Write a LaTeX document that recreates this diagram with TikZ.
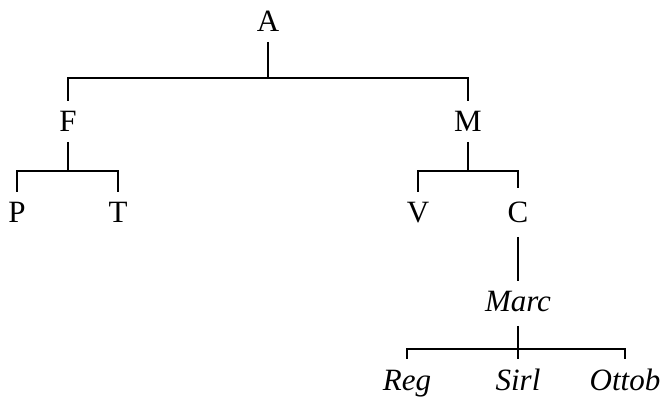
\documentclass[tikz,border=0pt]{standalone}
\usepackage{fontspec}
\setmainfont{Liberation Serif}

\begin{document}
\begin{tikzpicture}[x=1pt,y=-1pt,line width=1.2pt,
    lbl/.style={font=\fontsize{31}{36}\selectfont,inner sep=0pt,outer sep=10pt,
        text height=21pt,text depth=0pt,anchor=base},
    wit/.style={lbl,font=\fontsize{31}{36}\selectfont\itshape}]
\useasboundingbox (0,0) rectangle (662,398);
% top of the tree
\node[lbl] (A) at (268,32) {A};
\node[lbl] (F) at (68,132) {F};
\node[lbl] (M) at (468,132) {M};
\coordinate (jA) at (268,78);
\draw (A.south) -- (jA);
\draw (F.north) |- (jA) -| (M.north);
% second row
\node[lbl] (P) at (17,223) {P};
\node[lbl] (T) at (118,223) {T};
\node[lbl] (V) at (418,223) {V};
\node[lbl,outer sep=14pt] (C) at (518,223) {C};
\coordinate (jF) at (68,171);
\coordinate (jM) at (468,171);
\draw (F.south) -- (jF);
\draw (P.north) |- (jF) -| (T.north);
\draw (M.south) -- (jM);
\draw (V.north) |- (jM) -| (C.north);
% below C
\node[wit] (Marc) at (518,312) {Marc};
\draw (C.south) -- (Marc.north);
\node[wit] (Reg) at (407,390) {Reg};
\node[wit] (Sirl) at (518,390) {Sirl};
\node[wit] (Ottob) at (625,390) {Ottob};
\coordinate (jMarc) at (518,349);
\draw ([yshift=-4pt]Marc.south) -- (jMarc);
\draw (Reg.north) |- (jMarc) -| (Ottob.north);
\draw (Sirl.north) -- (jMarc);
\end{tikzpicture}
\end{document}
